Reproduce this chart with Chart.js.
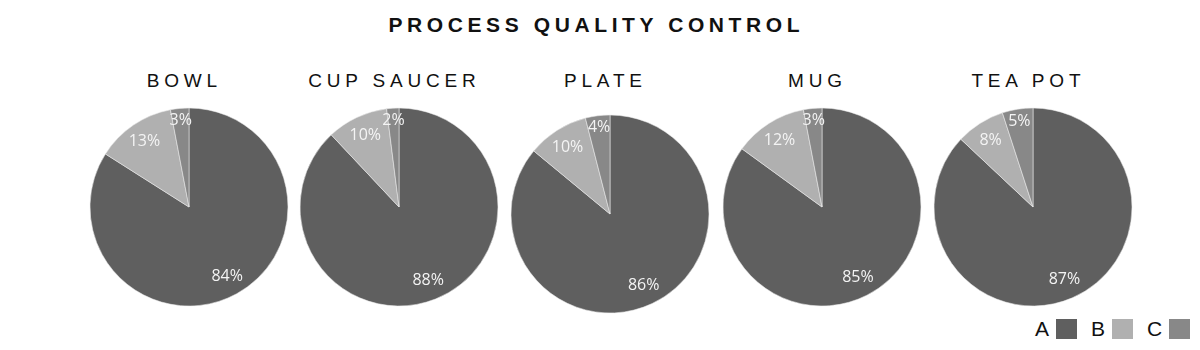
<!DOCTYPE html>
<html>
<head>
<meta charset="utf-8">
<script src="https://cdn.jsdelivr.net/npm/chart.js@4.4.1/dist/chart.umd.min.js"></script>
<style>
  html, body { margin:0; padding:0; background:#ffffff; }
  #stage { position:relative; width:1200px; height:350px; overflow:hidden; background:#fff; }
  .main-title { position:absolute; top:12px; left:0; width:1188px; text-align:center;
    font-family:"Liberation Sans", Arial, sans-serif; font-weight:bold; font-size:21px;
    letter-spacing:4.6px; color:#111; line-height:26px; padding-left:4.6px; box-sizing:border-box; }
  .pie-title { position:absolute; top:68px; width:240px; text-align:center;
    font-family:"Liberation Sans", Arial, sans-serif; font-size:19px; letter-spacing:4.8px;
    color:#111; line-height:26px; }
  canvas.pie { position:absolute; }
  .legend { position:absolute; left:1035px; top:317px; display:flex; align-items:center;
    font-family:"Liberation Sans", Arial, sans-serif; font-size:21px; color:#111; }
  .legend .item { display:flex; align-items:center; margin-right:14px; }
  .legend .box { width:21px; height:20px; margin-left:7px; }
</style>
</head>
<body>
<div id="stage">
  <div class="main-title" id="mainTitle"></div>
  <div class="legend" id="legend"></div>
</div>
<script>
// ---- data ----
const chartTitle = 'PROCESS QUALITY CONTROL';
const categories = ['BOWL', 'CUP SAUCER', 'PLATE', 'MUG', 'TEA POT'];
const seriesNames = ['A', 'B', 'C'];
const seriesA = [84, 88, 86, 85, 87];
const seriesB = [13, 10, 10, 12, 8];
const seriesC = [3, 2, 4, 3, 5];

// ---- styling / layout (separate from data) ----
const seriesColors = ['#5f5f5f', '#b0b0b0', '#888888'];
const pieCenterX = [189, 399, 610, 822, 1033];
const pieCenterY = [207, 207, 214, 207, 207];
const titleShiftX = -7;
const pieRadius = 99;
const canvasSize = 220;

const stage = document.getElementById('stage');
document.getElementById('mainTitle').textContent = chartTitle;

// legend
const legend = document.getElementById('legend');
seriesNames.forEach((n, i) => {
  const it = document.createElement('div');
  it.className = 'item';
  const t = document.createElement('span');
  t.textContent = n;
  const b = document.createElement('span');
  b.className = 'box';
  b.style.background = seriesColors[i];
  it.appendChild(t); it.appendChild(b);
  legend.appendChild(it);
});

const pctLabels = {
  id: 'pctLabels',
  afterDatasetsDraw(chart) {
    const ctx = chart.ctx;
    const meta = chart.getDatasetMeta(0);
    const data = chart.data.datasets[0].data;
    ctx.save();
    ctx.font = '16px "Open Sans", "Noto Sans", sans-serif';
    ctx.fillStyle = '#f4f4f4';
    ctx.textAlign = 'center';
    ctx.textBaseline = 'middle';
    meta.data.forEach((arc, i) => {
      const p = arc.getProps(['x', 'y', 'startAngle', 'endAngle', 'outerRadius'], true);
      const mid = (p.startAngle + p.endAngle) / 2;
      const f = data[i] < 6 ? 0.88 : 0.8;
      const px = p.x + Math.cos(mid) * p.outerRadius * f;
      const py = p.y + Math.sin(mid) * p.outerRadius * f;
      ctx.fillText(data[i] + '%', px, py);
    });
    ctx.restore();
  }
};

categories.forEach((cat, i) => {
  const title = document.createElement('div');
  title.className = 'pie-title';
  title.textContent = cat;
  title.style.left = (pieCenterX[i] - 120 + 2.4 + titleShiftX) + 'px';
  stage.appendChild(title);

  const cv = document.createElement('canvas');
  cv.className = 'pie';
  cv.width = canvasSize; cv.height = canvasSize;
  cv.style.width = canvasSize + 'px'; cv.style.height = canvasSize + 'px';
  cv.style.left = (pieCenterX[i] - canvasSize / 2) + 'px';
  cv.style.top = (pieCenterY[i] - canvasSize / 2) + 'px';
  stage.appendChild(cv);

  new Chart(cv.getContext('2d'), {
    type: 'pie',
    data: {
      labels: seriesNames,
      datasets: [{
        data: [seriesA[i], seriesB[i], seriesC[i]],
        backgroundColor: seriesColors,
        borderColor: 'rgba(235,235,235,0.7)',
        borderWidth: 0.8
      }]
    },
    options: {
      responsive: false,
      animation: false,
      radius: pieRadius,
      layout: { padding: 0 },
      plugins: { legend: { display: false }, tooltip: { enabled: false }, title: { display: false } }
    },
    plugins: [pctLabels]
  });
});
</script>
</body>
</html>
